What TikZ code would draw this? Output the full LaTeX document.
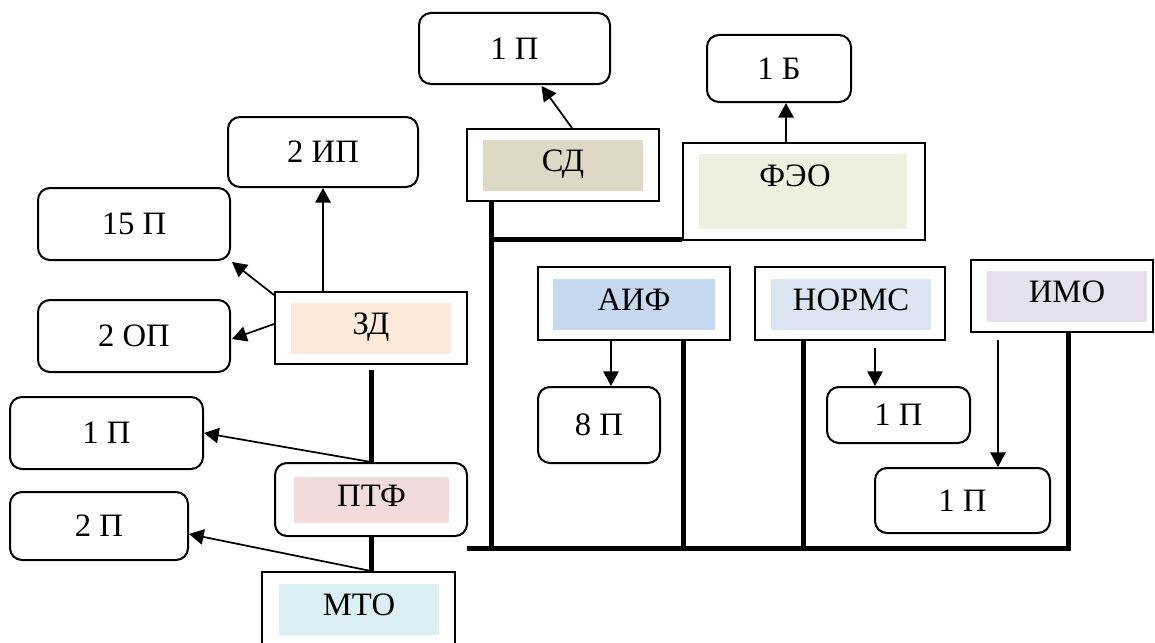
\documentclass[tikz,border=0pt]{standalone}
\usepackage{fontspec}
\setmainfont{Liberation Serif}
\usetikzlibrary{arrows.meta,calc}
\definecolor{czd}{HTML}{FDE9D9}
\definecolor{cptf}{HTML}{F2DCDB}
\definecolor{cmto}{HTML}{DAEEF3}
\definecolor{csd}{HTML}{DDD9C4}
\definecolor{cfeo}{HTML}{EBF1DE}
\definecolor{caif}{HTML}{C6D9F1}
\definecolor{cnorm}{HTML}{DBE5F1}
\definecolor{cimo}{HTML}{E5E0EC}
\begin{document}
\begin{tikzpicture}[x=0.75pt,y=-0.75pt,
 lbl/.style={font=\fontsize{24.5}{28}\selectfont, inner sep=0pt},
 box/.style={draw, line width=1.5pt, inner sep=0pt, fill=white, lbl},
 rbox/.style={box, rounded corners=9pt},
 shade/.style={draw=none, inner sep=0pt, lbl, text depth=7pt},
 bus/.style={line width=3.75pt, line join=miter},
 arr/.style={line width=1.3pt, -{Triangle[length=11pt,width=11.5pt]}},
]
\useasboundingbox (0,0) rectangle (1155,642);
\clip (0,0) rectangle (1155,642);
\fill[white] (0,0) rectangle (1155,642);

% rounded boxes
\node[rbox, minimum width=143.25pt, minimum height=53.25pt] (p1t) at (514.5,48.5) {1 П};
\node[rbox, minimum width=108pt, minimum height=50.25pt] (b1) at (779,68.5) {1 Б};
\node[rbox, minimum width=142.5pt, minimum height=52.5pt] (ip2) at (323,152) {2 ИП};
\node[rbox, minimum width=144pt, minimum height=54pt] (p15) at (134,224) {15 П};
\node[rbox, minimum width=144pt, minimum height=54pt] (op2) at (134,336) {2 ОП};
\node[rbox, minimum width=144.75pt, minimum height=54pt] (p1l) at (106.5,433) {1 П};
\node[rbox, minimum width=133.5pt, minimum height=51pt] (p2) at (99,526) {2 П};
\node[rbox, minimum width=91.5pt, minimum height=57pt] (p8) at (599,425) {8 П};
\node[rbox, minimum width=107.25pt, minimum height=42pt] (p1n) at (898.5,415) {1 П};
\node[rbox, minimum width=131.25pt, minimum height=48.75pt] (p1i) at (962.5,500.5) {1 П};

% unit boxes
\node[box, minimum width=144pt, minimum height=54pt] (zd) at (371,328) {};
\node[shade, fill=czd, minimum width=120pt, minimum height=38.25pt] (zdf) at (371,328.5) {ЗД};
\node[rbox, minimum width=144pt, minimum height=54.75pt] (ptf) at (371,499.5) {};
\node[shade, fill=cptf, minimum width=116.25pt, minimum height=34.5pt] (ptff) at (371.5,500) {ПТФ};
\node[box, minimum width=144.75pt, minimum height=66pt] (mto) at (358.5,616) {};
\node[shade, fill=cmto, minimum width=120pt, minimum height=38.25pt] (mtof) at (359,609.5) {МТО};
\node[box, minimum width=144pt, minimum height=54pt] (sd) at (563,165) {};
\node[shade, fill=csd, minimum width=120pt, minimum height=38.25pt] (sdf) at (563,165.5) {СД};
\node[box, minimum width=181.5pt, minimum height=72.75pt] (feo) at (804,191.5) {};
\node[shade, fill=cfeo, minimum width=156pt, minimum height=56.25pt] (feof) at (803,191.5) {};
\node[lbl] (feot) at (795,176) {ФЭО};
\node[box, minimum width=144pt, minimum height=54.75pt] (aif) at (634,303.5) {};
\node[shade, fill=caif, minimum width=121.5pt, minimum height=38.25pt] (aiff) at (634,304.5) {АИФ};
\node[box, minimum width=142.5pt, minimum height=54.75pt] (normc) at (850,303.5) {};
\node[shade, fill=cnorm, minimum width=120pt, minimum height=38.25pt] (normcf) at (851,304.5) {НОРМС};
\node[box, minimum width=136.5pt, minimum height=54pt] (imo) at (1062,296) {};
\node[shade, fill=cimo, minimum width=120pt, minimum height=38.25pt] (imof) at (1067,296.5) {ИМО};

% named points
\coordinate (busL) at (467,548);
\coordinate (jsd) at (491,548);
\coordinate (jaif) at (683,548);
\coordinate (jnorm) at (803,548);
\coordinate (jimo) at (1068,548);
\coordinate (jfeo) at (491,239);
\coordinate (zdstub) at (371,370);
\coordinate (normarr) at (875,348);
\coordinate (imoarr) at (998,340);
\coordinate (x611) at (611,0);
\coordinate (x786) at (786,0);

% thick lines
\draw[bus] (sd.south -| jsd) -- (jsd);
\draw[bus] (jfeo) -- (feo.west |- jfeo);
\draw[bus] (busL) -- (jimo) -- (imo.south -| jimo);
\draw[bus] (aif.south -| jaif) -- (jaif);
\draw[bus] (normc.south -| jnorm) -- (jnorm);
\draw[bus] (zdstub) -- (ptf.north -| zdstub);
\draw[bus] (ptf.south -| zdstub) -- (mto.north -| zdstub);

% arrows
\draw[arr] ($(sd.north)+(9,0)$) -- ($(p1t.south)+(27,1)$);
\draw[arr] (feo.north -| x786) -- (b1.south -| x786);
\draw[arr] (zd.north -| ip2.south) -- (ip2.south);
\draw[arr] ($(zd.north west)+(0,4)$) -- ($(p15.south east)+(1,1)$);
\draw[arr] ($(zd.west)+(0,-4)$) -- ($(op2.east)+(1,3)$);
\draw[arr] (ptf.north -| zdstub) -- (p1l.east);
\draw[arr] (mto.north -| zdstub) -- ($(p2.east)+(0,8)$);
\draw[arr] (aif.south -| x611) -- (p8.north -| x611);
\draw[arr] (normarr) -- (p1n.north -| normarr);
\draw[arr] (imoarr) -- (p1i.north -| imoarr);
\end{tikzpicture}
\end{document}
